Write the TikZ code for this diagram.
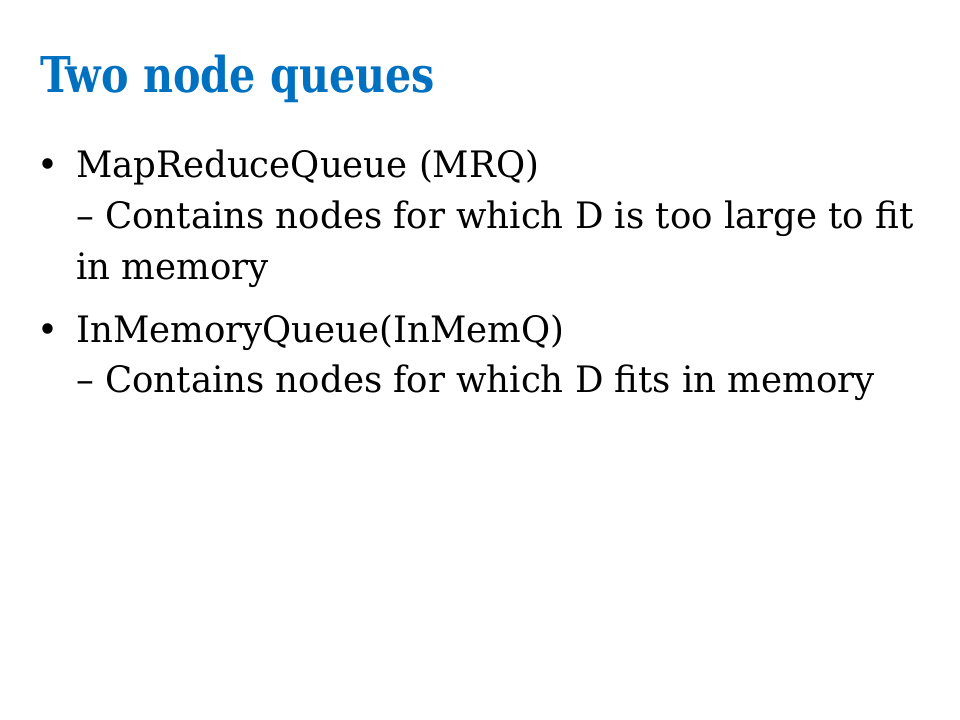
\documentclass[tikz,border=0pt]{standalone}
\usepackage{fontspec}
\setmainfont{DejaVu Serif Condensed}
\newfontfamily\bodyfont[FakeStretch=1.085]{DejaVu Serif Condensed}
\newfontfamily\titlefont[FakeStretch=0.93]{DejaVu Serif Condensed Bold}
\definecolor{titleblue}{RGB}{0,112,192}
\begin{document}
\begin{tikzpicture}[x=0.75pt,y=-0.75pt,
  title/.style={anchor=base west,inner sep=0pt,text=titleblue,font=\titlefont\fontsize{37pt}{44pt}\selectfont},
  body/.style={anchor=base west,inner sep=0pt,font=\bodyfont\fontsize{27.3pt}{33pt}\selectfont},
  bul/.style={anchor=base,inner sep=0pt,font=\bodyfont\fontsize{27.3pt}{33pt}\selectfont}]
\useasboundingbox[fill=white] (0,0) rectangle (960,720);
\node[title] (t) at (40,93) {Two node queues};
\node[bul] (b1) at (48,178) {•};
\node[body] (l1) at (76,178) {MapReduceQueue (MRQ)};
\node[body] (l2) at (76,229) {– Contains nodes for which D is too large to fit};
\node[body] (l3) at (76,280) {in memory};
\node[bul] (b2) at (48,342) {•};
\node[body] (l4) at (76,342) {InMemoryQueue(InMemQ)};
\node[body] (l5) at (76,392) {– Contains nodes for which D fits in memory};
\end{tikzpicture}
\end{document}
